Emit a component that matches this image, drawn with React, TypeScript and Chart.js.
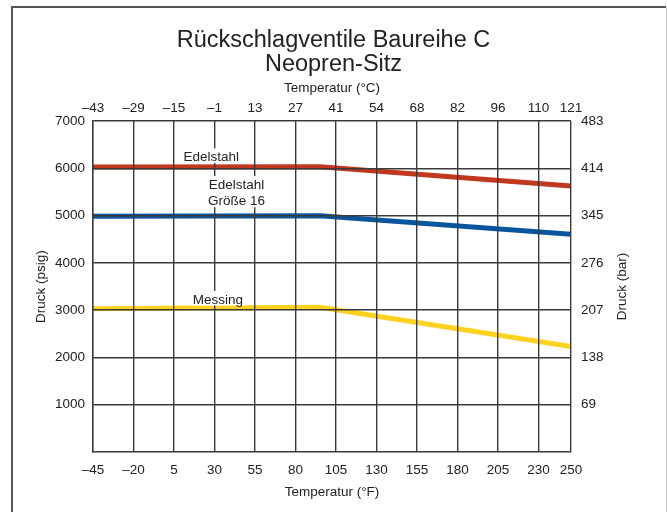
import { useEffect, useRef } from 'react';
import { Chart, registerables } from 'chart.js';

Chart.register(...registerables);

// ---- data ----
const fahrenheitTicks = [-45, -20, 5, 30, 55, 80, 105, 130, 155, 180, 205, 230, 250];
const celsiusTicks = [-43, -29, -15, -1, 13, 27, 41, 54, 68, 82, 96, 110, 121];
const psiTicks = [1000, 2000, 3000, 4000, 5000, 6000, 7000];
const barTicks = [69, 138, 207, 276, 345, 414, 483];

const edelstahlF = [-45, 95, 250];
const edelstahlPsi = [6030, 6035, 5625];
const edelstahl16F = [-45, 95, 250];
const edelstahl16Psi = [4985, 5000, 4605];
const messingF = [-45, 95, 250];
const messingPsi = [3030, 3060, 2230];

const noteTexts = [['Edelstahl'], ['Edelstahl', 'Größe 16'], ['Messing']];
const noteF = [28, 43.5, 32];
const notePsi = [6233, 5472, 3218];

// ---- styles ----
const FONT = '"Liberation Sans", Arial, Helvetica, sans-serif';
const TEXT = '#222222';
const GRID = '#3a3a3a';
const RED = '#c2381f';
const BLUE = '#0a569e';
const YELLOW = '#ffd21f';

const fmt = (v: number) => (v < 0 ? '\u2013' + Math.abs(v) : String(v));

const framePlugin = {
  id: 'frame',
  beforeDraw(chart: any) {
    const ctx = chart.ctx;
    ctx.save();
    ctx.fillStyle = '#ffffff';
    ctx.fillRect(0, 0, chart.width, chart.height);
    ctx.strokeStyle = '#555555';
    ctx.lineWidth = 2;
    ctx.beginPath();
    ctx.moveTo(12, chart.height);
    ctx.lineTo(12, 7);
    ctx.lineTo(666, 7);
    ctx.stroke();
    ctx.strokeStyle = '#c4c4c4';
    ctx.lineWidth = 1;
    ctx.beginPath();
    ctx.moveTo(666.5, 8);
    ctx.lineTo(666.5, chart.height);
    ctx.stroke();
    ctx.restore();
  },
};

const notesPlugin = {
  id: 'notes',
  afterDraw(chart: any) {
    const ctx = chart.ctx;
    const xs = chart.scales.x;
    const ys = chart.scales.y;
    const size = 13.5;
    const lh = 16.7;
    ctx.save();
    ctx.font = `${size}px ${FONT}`;
    ctx.textAlign = 'center';
    ctx.textBaseline = 'middle';
    noteTexts.forEach((lines, i) => {
      const cx = xs.getPixelForValue(noteF[i]);
      const cy = ys.getPixelForValue(notePsi[i]);
      const w = Math.max(...lines.map((l) => ctx.measureText(l).width)) + 4;
      const first = cy - ((lines.length - 1) * lh) / 2;
      const last = first + (lines.length - 1) * lh;
      ctx.fillStyle = '#ffffff';
      ctx.fillRect(cx - w / 2, first - 9, w, last - first + 14.5);
      ctx.fillStyle = TEXT;
      lines.forEach((l, j) => {
        ctx.fillText(l, cx, first + j * lh);
      });
    });
    // right axis title, reading bottom-to-top
    const yr = chart.scales.y1;
    ctx.save();
    ctx.translate(yr.right - 45, (chart.chartArea.top + chart.chartArea.bottom) / 2);
    ctx.rotate(-Math.PI / 2);
    ctx.fillText('Druck (bar)', 0, 0);
    ctx.restore();
    ctx.restore();
  },
};

export default function App() {
  const ref = useRef<HTMLCanvasElement>(null);

  useEffect(() => {
    const canvas = ref.current!;
    const font = { family: FONT, size: 13.5, lineHeight: 1.2 };
    const setF = (s: any) => {
      s.ticks = fahrenheitTicks.map((v) => ({ value: v }));
    };
    const setP = (s: any) => {
      s.ticks = psiTicks.map((v) => ({ value: v }));
    };
    const mk = (xs: number[], ys: number[]) => xs.map((x, i) => ({ x, y: ys[i] }));

    const chart = new Chart(canvas, {
      type: 'line',
      data: {
        datasets: [
          { label: 'Edelstahl', data: mk(edelstahlF, edelstahlPsi), borderColor: RED, borderWidth: 5, pointRadius: 0, tension: 0, xAxisID: 'x', yAxisID: 'y' },
          { label: 'Edelstahl Größe 16', data: mk(edelstahl16F, edelstahl16Psi), borderColor: BLUE, borderWidth: 5, pointRadius: 0, tension: 0, xAxisID: 'x', yAxisID: 'y' },
          { label: 'Messing', data: mk(messingF, messingPsi), borderColor: YELLOW, borderWidth: 5, pointRadius: 0, tension: 0, xAxisID: 'x', yAxisID: 'y' },
        ],
      },
      options: {
        animation: false,
        responsive: false,
        devicePixelRatio: 1,
        layout: { padding: 0 },
        plugins: {
          legend: { display: false },
          tooltip: { enabled: false },
          title: {
            display: true,
            text: ['Rückschlagventile Baureihe C', 'Neopren-Sitz'],
            color: TEXT,
            font: { family: FONT, size: 23.5, weight: 'normal', lineHeight: 1.03 },
            padding: { top: 28, bottom: 0 },
          },
        },
        scales: {
          x: {
            type: 'linear',
            position: 'bottom',
            min: -45,
            max: 250,
            afterBuildTicks: setF,
            afterFit: (s: any) => { s.height = 60; },
            ticks: { autoSkip: false, maxRotation: 0, padding: 10, font, color: TEXT, callback: (v: any) => fmt(Number(v)) },
            grid: { color: GRID, lineWidth: 1.4, drawTicks: false, z: 1 },
            border: { display: true, color: GRID, width: 1.4, z: 1 },
            title: { display: true, text: 'Temperatur (°F)', font, color: TEXT, padding: { top: 0, bottom: 12 } },
          },
          x2: {
            type: 'linear',
            position: 'top',
            min: -45,
            max: 250,
            afterBuildTicks: setF,
            afterFit: (s: any) => { s.height = 44.7; },
            ticks: { autoSkip: false, maxRotation: 0, padding: 5, font, color: TEXT, callback: (_v: any, i: number) => fmt(celsiusTicks[i]) },
            grid: { display: false, drawTicks: false },
            border: { display: false },
            title: { display: true, text: 'Temperatur (°C)', font, color: TEXT, padding: { top: 3.6, bottom: 0 } },
          },
          y: {
            type: 'linear',
            position: 'left',
            min: 0,
            max: 7000,
            afterBuildTicks: setP,
            afterFit: (s: any) => { s.width = 93; },
            ticks: { autoSkip: false, padding: 8, font, color: TEXT, callback: (v: any) => String(v) },
            grid: { color: GRID, lineWidth: 1.4, drawTicks: false, z: 1 },
            border: { display: true, color: GRID, width: 1.4, z: 1 },
            title: { display: true, text: 'Druck (psig)', font, color: TEXT, padding: { top: 33, bottom: 0 } },
          },
          y1: {
            type: 'linear',
            position: 'right',
            min: 0,
            max: 7000,
            afterBuildTicks: setP,
            afterFit: (s: any) => { s.width = 96; },
            ticks: { autoSkip: false, padding: 10, font, color: TEXT, callback: (_v: any, i: number) => String(barTicks[i]) },
            grid: { display: false, drawTicks: false },
            border: { display: false },
          },
        },
      } as any,
      plugins: [framePlugin, notesPlugin],
    });
    return () => chart.destroy();
  }, []);

  return (
    <div style={{ position: 'fixed', left: 0, top: 0, width: 667, height: 512 }}>
      <canvas ref={ref} width={667} height={512} style={{ width: 667, height: 512 }} />
    </div>
  );
}
